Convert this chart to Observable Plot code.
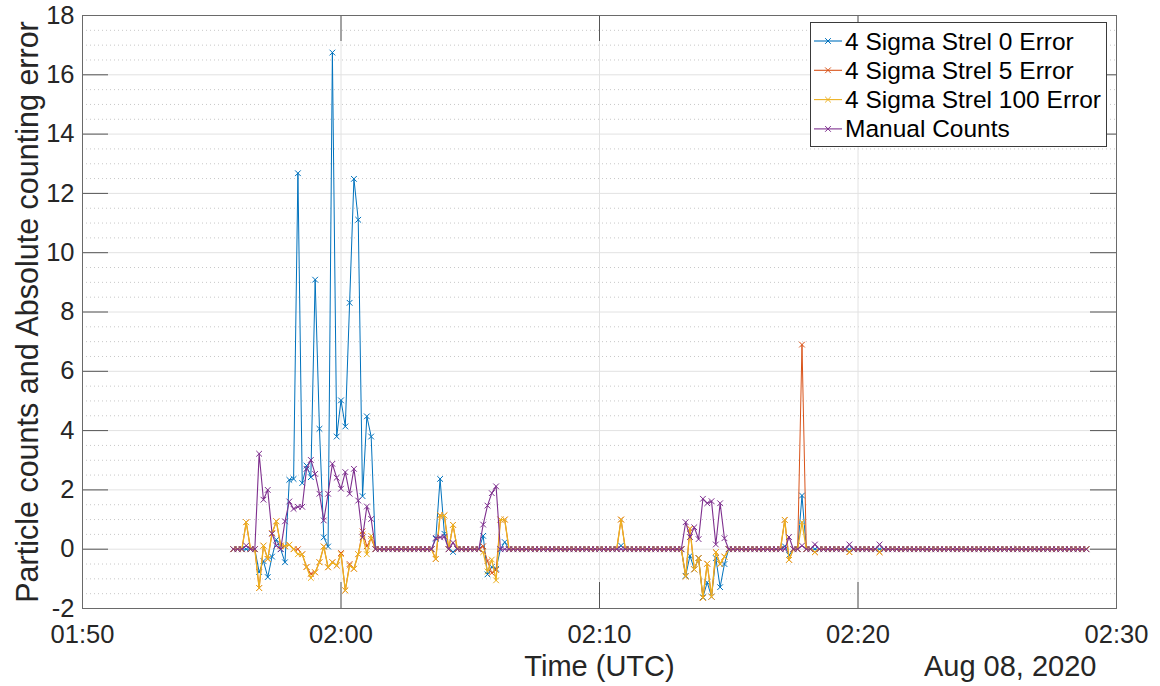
<!DOCTYPE html>
<html>
<head>
<meta charset="utf-8">
<script src="https://cdn.jsdelivr.net/npm/d3@7"></script>
<script src="https://cdn.jsdelivr.net/npm/@observablehq/plot@0.6"></script>
<style>
  html, body { margin: 0; padding: 0; background: #fff; }
  #chart { width: 1160px; height: 686px; }
</style>
</head>
<body>
<div id="chart"></div>
<script>
// ---------------- data ----------------
const seriesNames = ["4 Sigma Strel 0 Error", "4 Sigma Strel 5 Error", "4 Sigma Strel 100 Error", "Manual Counts"];
const seriesColors = ["#0072BD", "#D95319", "#EDB120", "#7E2F8E"];

// samples every 10 s starting 2020-08-08 01:55:50 UTC
const startTime = "2020-08-08T01:55:50Z";
const sampleSeconds = 10;

const strel0 = [
  0, 0, 0, 0, 0, 0, -0.77, -0.4, -0.94, -0.25,
  0.32, 0, -0.44, 2.34, 2.37, 12.68, 2.23, 2.82, 2.43, 9.09,
  4.06, 0.4, 0.09, 16.75, 3.8, 5.02, 4.14, 8.31, 12.49, 11.11,
  1.79, 4.48, 3.8, 0, 0, 0, 0, 0, 0, 0,
  0, 0, 0, 0, 0, 0, 0, 0.35, 2.37, 0.52,
  0, -0.09, 0, 0, 0, 0, 0, 0, 0.45, -0.85,
  -0.6, -0.66, 0, 0.24, 0, 0, 0, 0, 0, 0,
  0, 0, 0, 0, 0, 0, 0, 0, 0, 0,
  0, 0, 0, 0, 0, 0, 0, 0, 0, 0,
  0.12, 0, 0, 0, 0, 0, 0, 0, 0, 0,
  0, 0, 0, 0, 0, -0.9, -0.22, -0.68, -0.3, -1.62,
  -1.12, -1.6, -0.3, -1.28, -0.5, 0, 0, 0, 0, 0,
  0, 0, 0, 0, 0, 0, 0, 0, 0.1, -0.2,
  0, 0, 1.81, 0, 0, 0, 0, 0, 0, 0,
  0, 0, 0, 0, 0, 0, 0, 0, 0, 0,
  0, 0, 0, 0, 0, 0, 0, 0, 0, 0,
  0, 0, 0, 0, 0, 0, 0, 0, 0, 0,
  0, 0, 0, 0, 0, 0, 0, 0, 0, 0,
  0, 0, 0, 0, 0, 0, 0, 0, 0, 0,
  0, 0, 0, 0, 0, 0, 0, 0, 0
];

const strel5 = [
  0, 0, 0, 0.91, 0, 0, -1.31, 0.12, -0.33, 0.54,
  0.94, 0.12, 0.1, 0.15, 0, 0, -0.17, -0.6, -0.83, -0.78,
  -0.44, 0.09, -0.61, -0.44, -0.55, -0.13, -1.39, -0.5, -0.66, -0.17,
  0.6, 0.1, 0.35, 0, 0, 0, 0, 0, 0, 0,
  0, 0, 0, 0, 0, 0, 0, -0.33, 1.14, 1.14,
  0, 0.82, 0, 0, 0, 0, 0, 0, 0.1, -0.4,
  -0.8, -0.7, 1.0, 1.0, 0, 0, 0, 0, 0, 0,
  0, 0, 0, 0, 0, 0, 0, 0, 0, 0,
  0, 0, 0, 0, 0, 0, 0, 0, 0, 0,
  1.0, 0, 0, 0, 0, 0, 0, 0, 0, 0,
  0, 0, 0, 0, 0, -0.92, 0.69, -0.68, -0.3, -1.64,
  -0.49, -1.6, -0.1, -0.5, -0.25, 0, 0, 0, 0, 0,
  0, 0, 0, 0, 0, 0, 0, 0, 0.99, -0.36,
  0, 0, 6.9, 0, 0, -0.1, 0, 0, 0, 0,
  0, 0, 0, -0.1, 0, 0, 0, 0, 0, 0,
  -0.1, 0, 0, 0, 0, 0, 0, 0, 0, 0,
  0, 0, 0, 0, 0, 0, 0, 0, 0, 0,
  0, 0, 0, 0, 0, 0, 0, 0, 0, 0,
  0, 0, 0, 0, 0, 0, 0, 0, 0, 0,
  0, 0, 0, 0, 0, 0, 0, 0, 0
];

const strel100 = [
  0, 0, 0, 0.91, 0, 0, -1.31, 0.12, -0.33, 0.54,
  0.94, 0.12, 0.1, 0.15, 0, -0.17, -0.17, -0.6, -0.97, -0.78,
  -0.44, 0.09, -0.61, -0.44, -0.55, -0.17, -1.39, -0.55, -0.66, -0.17,
  0.5, -0.17, 0.45, 0, 0, 0, 0, 0, 0, 0,
  0, 0, 0, 0, 0, 0, 0, -0.33, 1.14, 1.14,
  0, 0.82, 0, 0, 0, 0, 0, 0, -0.1, -0.75,
  -0.35, -1.05, 1.0, 1.0, 0, 0, 0, 0, 0, 0,
  0, 0, 0, 0, 0, 0, 0, 0, 0, 0,
  0, 0, 0, 0, 0, 0, 0, 0, 0, 0,
  1.0, 0, 0, 0, 0, 0, 0, 0, 0, 0,
  0, 0, 0, 0, 0, -0.92, 0.69, -0.68, -0.3, -1.64,
  -0.49, -1.6, -0.1, -0.5, -0.25, 0, 0, 0, 0, 0,
  0, 0, 0, 0, 0, 0, 0, 0, 0.99, -0.36,
  0, 0, 0.91, 0, 0, -0.1, 0, 0, 0, 0,
  0, 0, 0, -0.1, 0, 0, 0, 0, 0, 0,
  -0.1, 0, 0, 0, 0, 0, 0, 0, 0, 0,
  0, 0, 0, 0, 0, 0, 0, 0, 0, 0,
  0, 0, 0, 0, 0, 0, 0, 0, 0, 0,
  0, 0, 0, 0, 0, 0, 0, 0, 0, 0,
  0, 0, 0, 0, 0, 0, 0, 0, 0
];

const manualCounts = [
  0, 0, 0, 0.12, 0, 0, 3.22, 1.67, 2.0, 0.52,
  0.12, 0, 0.94, 1.61, 1.36, 1.43, 1.43, 2.71, 3.01, 2.54,
  1.87, 0.97, 1.87, 2.88, 2.41, 2.04, 2.6, 1.87, 2.71, 1.64,
  0.4, 1.44, 1.02, 0, 0, 0, 0, 0, 0, 0,
  0, 0, 0, 0, 0, 0, 0, 0.38, 0.4, 0.42,
  0, 0.22, 0, 0, 0, 0, 0, 0, 0.83, 1.47,
  1.89, 2.12, 0, 0, 0, 0, 0, 0, 0, 0,
  0, 0, 0, 0, 0, 0, 0, 0, 0, 0,
  0, 0, 0, 0, 0, 0, 0, 0, 0, 0,
  0, 0, 0, 0, 0, 0, 0, 0, 0, 0,
  0, 0, 0, 0, 0, 0.91, 0.41, 0.74, 0.34, 1.7,
  1.55, 1.62, 0.16, 1.55, 0.37, 0, 0, 0, 0, 0,
  0, 0, 0, 0, 0, 0, 0, 0, 0, 0.41,
  0, 0, 0.12, 0, 0, 0.16, 0, 0, 0, 0,
  0, 0, 0, 0.16, 0, 0, 0, 0, 0, 0,
  0.16, 0, 0, 0, 0, 0, 0, 0, 0, 0,
  0, 0, 0, 0, 0, 0, 0, 0, 0, 0,
  0, 0, 0, 0, 0, 0, 0, 0, 0, 0,
  0, 0, 0, 0, 0, 0, 0, 0, 0, 0,
  0, 0, 0, 0, 0, 0, 0, 0, 0
];

const xTickLabels = ["01:50", "02:00", "02:10", "02:20", "02:30"];
const yTicks = [-2, 0, 2, 4, 6, 8, 10, 12, 14, 16, 18];
const xLabel = "Time (UTC)";
const yLabel = "Particle counts and Absolute counting error";
const dateLabel = "Aug 08, 2020";

// ---------------- build ----------------
const t0 = new Date(startTime).getTime();
const allSeries = [strel0, strel5, strel100, manualCounts];
const tables = allSeries.map((vals, k) =>
  vals.map((v, i) => ({t: new Date(t0 + i * sampleSeconds * 1000), v, s: seriesNames[k]}))
);
const xTicks = xTickLabels.map(s => new Date(`2020-08-08T${s}:00Z`));
const yMinor = d3.range(-2, 18.001, 0.5).filter(v => Math.abs(v % 2) > 1e-9);

const W = 1160, H = 686;
const mL = 82, mR = 44, mT = 15, mB = 78;
const plotW = W - mL - mR, plotH = H - mT - mB;
const tickLen = 26;
const axisCol = "#555555";
const textCol = "#262626";
const lineWidths = [1.0, 1.0, 1.3, 1.1];

const marks = [
  Plot.ruleY(yMinor, {stroke: "#c8c8c8", strokeDasharray: "1,3", strokeWidth: 1}),
  Plot.ruleY(yTicks, {stroke: "#e2e2e2"}),
  Plot.ruleX(xTicks, {stroke: "#e2e2e2"}),
];
tables.forEach((tab, k) => {
  marks.push(Plot.line(tab, {x: "t", y: "v", stroke: seriesColors[k], strokeWidth: lineWidths[k]}));
  marks.push(Plot.dot(tab, {x: "t", y: "v", symbol: "times", r: 2.7, stroke: seriesColors[k], strokeWidth: 1}));
});
marks.push(
  Plot.tickX(xTicks, {x: d => d, insetTop: plotH - tickLen, stroke: axisCol}),
  Plot.tickX(xTicks, {x: d => d, insetBottom: plotH - tickLen, stroke: axisCol}),
  Plot.tickY(yTicks, {y: d => d, insetRight: plotW - tickLen, stroke: axisCol}),
  Plot.tickY(yTicks, {y: d => d, insetLeft: plotW - tickLen, stroke: axisCol}),
  Plot.frame({stroke: "#6a6a6a"}),
  Plot.text([xLabel], {frameAnchor: "bottom", dy: 58, textAnchor: "middle", fontSize: 29, lineAnchor: "middle", fill: textCol}),
  Plot.text([dateLabel], {frameAnchor: "bottom-right", dx: -20, dy: 58, textAnchor: "end", fontSize: 29, lineAnchor: "middle", fill: textCol}),
  Plot.text([yLabel], {frameAnchor: "left", rotate: -90, dx: -54, textAnchor: "middle", fontSize: 30.5, lineAnchor: "middle", fill: textCol})
);

const chart = Plot.plot({
  width: W, height: H,
  marginLeft: mL, marginRight: mR, marginTop: mT, marginBottom: mB,
  style: {fontFamily: "'Liberation Sans', Arial, Helvetica, sans-serif", fontSize: "25.5px", color: textCol, background: "#fff"},
  x: {type: "utc", domain: [xTicks[0], xTicks[xTicks.length - 1]], ticks: xTicks, tickFormat: d3.utcFormat("%H:%M"), tickSize: 0, tickPadding: 16, label: null},
  y: {domain: [-2, 18], ticks: yTicks, tickFormat: d => `${d}`, tickSize: 0, tickPadding: 8, label: null},
  marks
});

// legend (inside the axes, top-right)
const svg = d3.select(chart);
const lg = svg.append("g").attr("class", "legend").attr("text-anchor", "start");
lg.append("rect").attr("x", 810.5).attr("y", 22.5).attr("width", 296).attr("height", 124)
  .attr("fill", "#fff").attr("stroke", "#3a3a3a").attr("stroke-width", 1);
const sym = d3.symbol(d3.symbolTimes, Math.PI * 2.7 * 2.7);
seriesNames.forEach((name, k) => {
  const y = 41 + k * 29.3;
  lg.append("line").attr("x1", 814).attr("x2", 842).attr("y1", y).attr("y2", y)
    .attr("stroke", seriesColors[k]).attr("stroke-width", 1.1);
  lg.append("path").attr("d", sym()).attr("transform", `translate(828,${y})`)
    .attr("fill", "none").attr("stroke", seriesColors[k]).attr("stroke-width", 1);
  lg.append("text").attr("x", 845).attr("y", y).attr("dy", "0.35em")
    .attr("font-size", 24.5).attr("fill", "#000").text(name);
});

document.getElementById("chart").appendChild(chart);
</script>
</body>
</html>
